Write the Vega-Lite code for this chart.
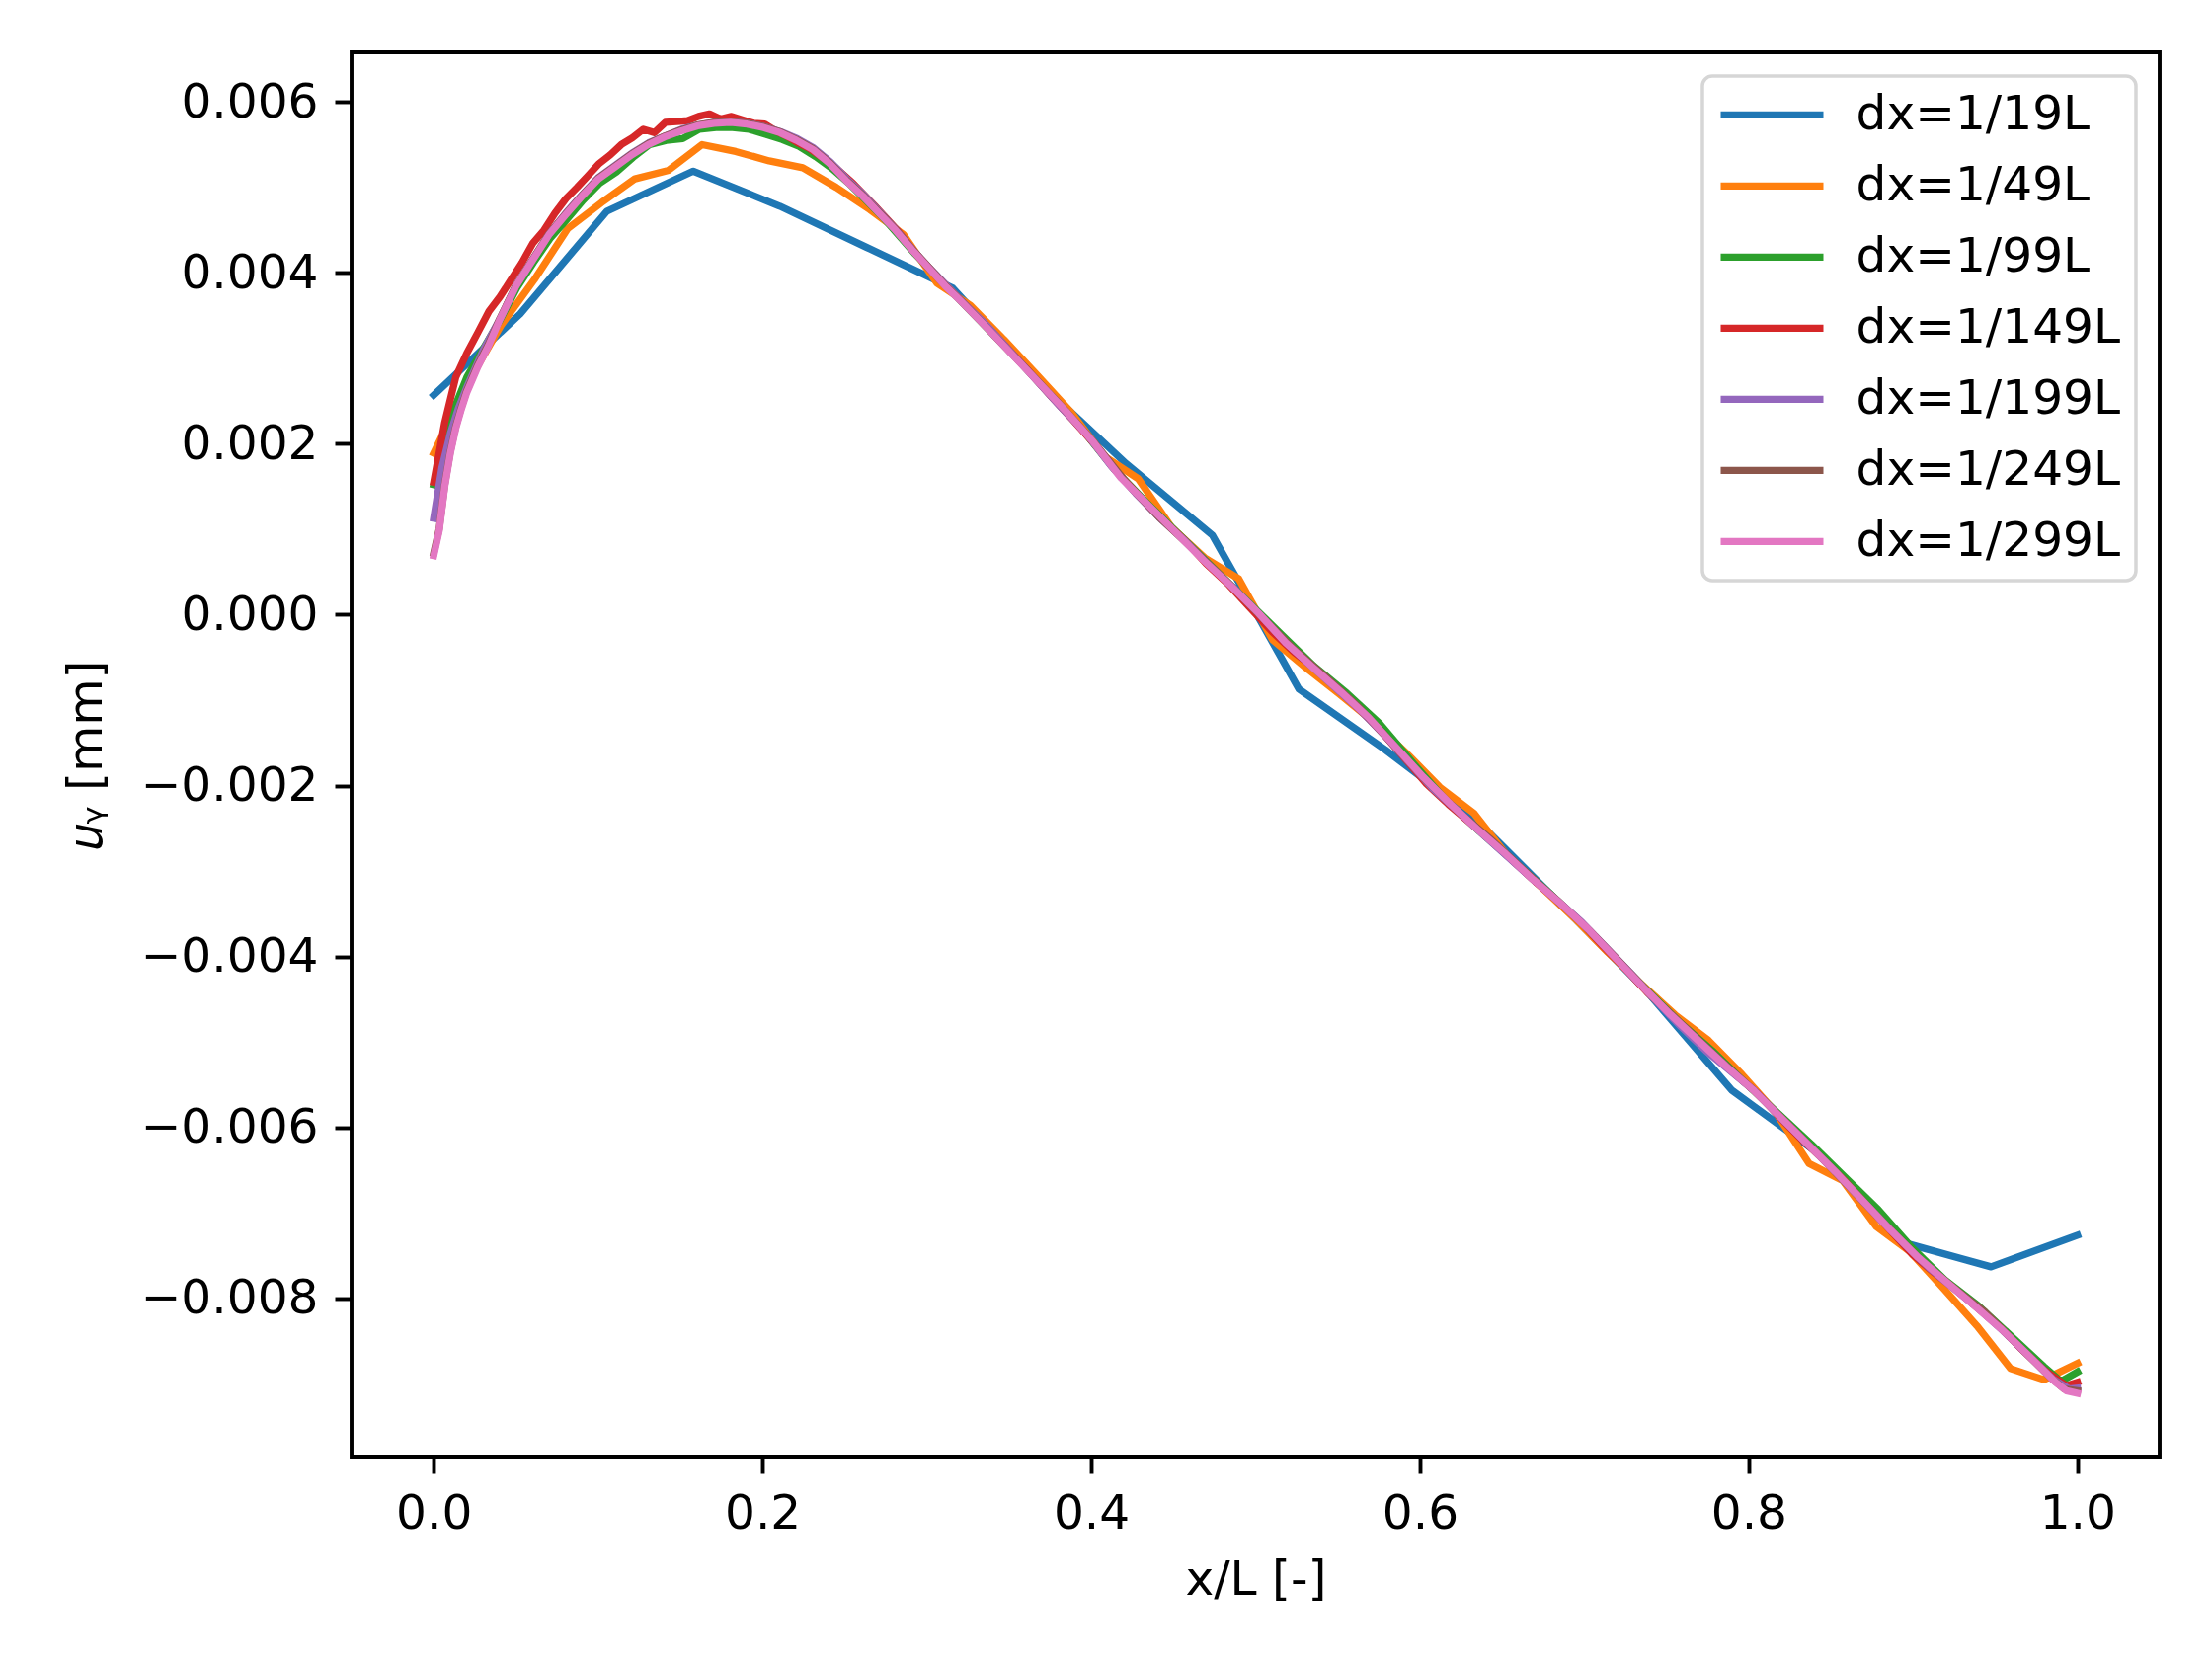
{
  "$schema": "https://vega.github.io/schema/vega-lite/v6.json",
  "width": 1831,
  "height": 1422,
  "autosize": "none",
  "padding": {"left": 356, "top": 53, "right": 53, "bottom": 205},
  "background": "white",
  "data": {
    "values": [
      {"dx": "dx=1/19L", "x": 0, "y": 0.00257},
      {"dx": "dx=1/19L", "x": 0.0526, "y": 0.00352},
      {"dx": "dx=1/19L", "x": 0.1053, "y": 0.00472},
      {"dx": "dx=1/19L", "x": 0.1579, "y": 0.00519},
      {"dx": "dx=1/19L", "x": 0.2105, "y": 0.00478},
      {"dx": "dx=1/19L", "x": 0.2632, "y": 0.0043},
      {"dx": "dx=1/19L", "x": 0.3158, "y": 0.00382},
      {"dx": "dx=1/19L", "x": 0.3684, "y": 0.00272},
      {"dx": "dx=1/19L", "x": 0.4211, "y": 0.00177},
      {"dx": "dx=1/19L", "x": 0.4737, "y": 0.00093},
      {"dx": "dx=1/19L", "x": 0.5263, "y": -0.00087},
      {"dx": "dx=1/19L", "x": 0.5789, "y": -0.00158},
      {"dx": "dx=1/19L", "x": 0.6316, "y": -0.00235},
      {"dx": "dx=1/19L", "x": 0.6842, "y": -0.00336},
      {"dx": "dx=1/19L", "x": 0.7368, "y": -0.00438},
      {"dx": "dx=1/19L", "x": 0.7895, "y": -0.00556},
      {"dx": "dx=1/19L", "x": 0.8421, "y": -0.0063},
      {"dx": "dx=1/19L", "x": 0.8947, "y": -0.00735},
      {"dx": "dx=1/19L", "x": 0.9474, "y": -0.00763},
      {"dx": "dx=1/19L", "x": 1, "y": -0.00726},

      {"dx": "dx=1/49L", "x": 0, "y": 0.00189},
      {"dx": "dx=1/49L", "x": 0.0204, "y": 0.0027},
      {"dx": "dx=1/49L", "x": 0.0408, "y": 0.00338},
      {"dx": "dx=1/49L", "x": 0.0612, "y": 0.00392},
      {"dx": "dx=1/49L", "x": 0.0816, "y": 0.00452},
      {"dx": "dx=1/49L", "x": 0.102, "y": 0.00482},
      {"dx": "dx=1/49L", "x": 0.1224, "y": 0.0051},
      {"dx": "dx=1/49L", "x": 0.1429, "y": 0.0052},
      {"dx": "dx=1/49L", "x": 0.1633, "y": 0.0055},
      {"dx": "dx=1/49L", "x": 0.1837, "y": 0.00542},
      {"dx": "dx=1/49L", "x": 0.2041, "y": 0.00531},
      {"dx": "dx=1/49L", "x": 0.2245, "y": 0.00523},
      {"dx": "dx=1/49L", "x": 0.2449, "y": 0.005},
      {"dx": "dx=1/49L", "x": 0.2653, "y": 0.00474},
      {"dx": "dx=1/49L", "x": 0.2857, "y": 0.00445},
      {"dx": "dx=1/49L", "x": 0.3061, "y": 0.00388},
      {"dx": "dx=1/49L", "x": 0.3265, "y": 0.00362},
      {"dx": "dx=1/49L", "x": 0.3469, "y": 0.00322},
      {"dx": "dx=1/49L", "x": 0.3673, "y": 0.0028},
      {"dx": "dx=1/49L", "x": 0.3878, "y": 0.00237},
      {"dx": "dx=1/49L", "x": 0.4082, "y": 0.00185},
      {"dx": "dx=1/49L", "x": 0.4286, "y": 0.00159},
      {"dx": "dx=1/49L", "x": 0.449, "y": 0.00102},
      {"dx": "dx=1/49L", "x": 0.4694, "y": 0.00066},
      {"dx": "dx=1/49L", "x": 0.4898, "y": 0.00042},
      {"dx": "dx=1/49L", "x": 0.5102, "y": -0.00029},
      {"dx": "dx=1/49L", "x": 0.5306, "y": -0.00062},
      {"dx": "dx=1/49L", "x": 0.551, "y": -0.00093},
      {"dx": "dx=1/49L", "x": 0.5714, "y": -0.00125},
      {"dx": "dx=1/49L", "x": 0.5918, "y": -0.00162},
      {"dx": "dx=1/49L", "x": 0.6122, "y": -0.00202},
      {"dx": "dx=1/49L", "x": 0.6327, "y": -0.00232},
      {"dx": "dx=1/49L", "x": 0.6531, "y": -0.00282},
      {"dx": "dx=1/49L", "x": 0.6735, "y": -0.00318},
      {"dx": "dx=1/49L", "x": 0.6939, "y": -0.00355},
      {"dx": "dx=1/49L", "x": 0.7143, "y": -0.00395},
      {"dx": "dx=1/49L", "x": 0.7347, "y": -0.00432},
      {"dx": "dx=1/49L", "x": 0.7551, "y": -0.00468},
      {"dx": "dx=1/49L", "x": 0.7755, "y": -0.00498},
      {"dx": "dx=1/49L", "x": 0.7959, "y": -0.00538},
      {"dx": "dx=1/49L", "x": 0.8163, "y": -0.00582},
      {"dx": "dx=1/49L", "x": 0.8367, "y": -0.00642},
      {"dx": "dx=1/49L", "x": 0.8571, "y": -0.00662},
      {"dx": "dx=1/49L", "x": 0.8776, "y": -0.00716},
      {"dx": "dx=1/49L", "x": 0.898, "y": -0.00745},
      {"dx": "dx=1/49L", "x": 0.9184, "y": -0.00788},
      {"dx": "dx=1/49L", "x": 0.9388, "y": -0.00832},
      {"dx": "dx=1/49L", "x": 0.9592, "y": -0.00882},
      {"dx": "dx=1/49L", "x": 0.9796, "y": -0.00895},
      {"dx": "dx=1/49L", "x": 1, "y": -0.00876},

      {"dx": "dx=1/99L", "x": 0, "y": 0.00152},
      {"dx": "dx=1/99L", "x": 0.0101, "y": 0.0023},
      {"dx": "dx=1/99L", "x": 0.0202, "y": 0.00278},
      {"dx": "dx=1/99L", "x": 0.0303, "y": 0.00312},
      {"dx": "dx=1/99L", "x": 0.0404, "y": 0.00345},
      {"dx": "dx=1/99L", "x": 0.0505, "y": 0.00382},
      {"dx": "dx=1/99L", "x": 0.0606, "y": 0.00412},
      {"dx": "dx=1/99L", "x": 0.0707, "y": 0.0044},
      {"dx": "dx=1/99L", "x": 0.0808, "y": 0.00462},
      {"dx": "dx=1/99L", "x": 0.0909, "y": 0.00485},
      {"dx": "dx=1/99L", "x": 0.101, "y": 0.00505},
      {"dx": "dx=1/99L", "x": 0.1111, "y": 0.00518},
      {"dx": "dx=1/99L", "x": 0.1212, "y": 0.00535},
      {"dx": "dx=1/99L", "x": 0.1313, "y": 0.0055},
      {"dx": "dx=1/99L", "x": 0.1414, "y": 0.00555},
      {"dx": "dx=1/99L", "x": 0.1515, "y": 0.00557},
      {"dx": "dx=1/99L", "x": 0.1616, "y": 0.00568},
      {"dx": "dx=1/99L", "x": 0.1717, "y": 0.0057},
      {"dx": "dx=1/99L", "x": 0.1818, "y": 0.0057},
      {"dx": "dx=1/99L", "x": 0.1919, "y": 0.00568},
      {"dx": "dx=1/99L", "x": 0.202, "y": 0.00562},
      {"dx": "dx=1/99L", "x": 0.2121, "y": 0.00556},
      {"dx": "dx=1/99L", "x": 0.2222, "y": 0.00548},
      {"dx": "dx=1/99L", "x": 0.2323, "y": 0.00536},
      {"dx": "dx=1/99L", "x": 0.2424, "y": 0.00522},
      {"dx": "dx=1/99L", "x": 0.2525, "y": 0.00505},
      {"dx": "dx=1/99L", "x": 0.2727, "y": 0.00466},
      {"dx": "dx=1/99L", "x": 0.2929, "y": 0.00422},
      {"dx": "dx=1/99L", "x": 0.3131, "y": 0.00382},
      {"dx": "dx=1/99L", "x": 0.3333, "y": 0.00342},
      {"dx": "dx=1/99L", "x": 0.3535, "y": 0.00302},
      {"dx": "dx=1/99L", "x": 0.3737, "y": 0.0026},
      {"dx": "dx=1/99L", "x": 0.3939, "y": 0.00218},
      {"dx": "dx=1/99L", "x": 0.4141, "y": 0.0017},
      {"dx": "dx=1/99L", "x": 0.4343, "y": 0.0013},
      {"dx": "dx=1/99L", "x": 0.4545, "y": 0.00092},
      {"dx": "dx=1/99L", "x": 0.4747, "y": 0.00054},
      {"dx": "dx=1/99L", "x": 0.4949, "y": 0.00016},
      {"dx": "dx=1/99L", "x": 0.5152, "y": -0.00022},
      {"dx": "dx=1/99L", "x": 0.5354, "y": -0.0006},
      {"dx": "dx=1/99L", "x": 0.5556, "y": -0.00092},
      {"dx": "dx=1/99L", "x": 0.5758, "y": -0.00128},
      {"dx": "dx=1/99L", "x": 0.596, "y": -0.00174},
      {"dx": "dx=1/99L", "x": 0.6162, "y": -0.00218},
      {"dx": "dx=1/99L", "x": 0.6364, "y": -0.00254},
      {"dx": "dx=1/99L", "x": 0.6566, "y": -0.00288},
      {"dx": "dx=1/99L", "x": 0.6768, "y": -0.00322},
      {"dx": "dx=1/99L", "x": 0.697, "y": -0.00358},
      {"dx": "dx=1/99L", "x": 0.7172, "y": -0.00398},
      {"dx": "dx=1/99L", "x": 0.7374, "y": -0.00438},
      {"dx": "dx=1/99L", "x": 0.7576, "y": -0.00476},
      {"dx": "dx=1/99L", "x": 0.7778, "y": -0.0051},
      {"dx": "dx=1/99L", "x": 0.798, "y": -0.00548},
      {"dx": "dx=1/99L", "x": 0.8182, "y": -0.00584},
      {"dx": "dx=1/99L", "x": 0.8384, "y": -0.0062},
      {"dx": "dx=1/99L", "x": 0.8586, "y": -0.00658},
      {"dx": "dx=1/99L", "x": 0.8788, "y": -0.00696},
      {"dx": "dx=1/99L", "x": 0.899, "y": -0.0074},
      {"dx": "dx=1/99L", "x": 0.9192, "y": -0.00778},
      {"dx": "dx=1/99L", "x": 0.9394, "y": -0.00808},
      {"dx": "dx=1/99L", "x": 0.9596, "y": -0.00844},
      {"dx": "dx=1/99L", "x": 0.9798, "y": -0.0088},
      {"dx": "dx=1/99L", "x": 0.9899, "y": -0.00897},
      {"dx": "dx=1/99L", "x": 1, "y": -0.00886},

      {"dx": "dx=1/149L", "x": 0, "y": 0.00155},
      {"dx": "dx=1/149L", "x": 0.0067, "y": 0.00225},
      {"dx": "dx=1/149L", "x": 0.0134, "y": 0.00278},
      {"dx": "dx=1/149L", "x": 0.0201, "y": 0.00306},
      {"dx": "dx=1/149L", "x": 0.0268, "y": 0.0033},
      {"dx": "dx=1/149L", "x": 0.0336, "y": 0.00355},
      {"dx": "dx=1/149L", "x": 0.0403, "y": 0.00372},
      {"dx": "dx=1/149L", "x": 0.047, "y": 0.00392},
      {"dx": "dx=1/149L", "x": 0.0537, "y": 0.00412},
      {"dx": "dx=1/149L", "x": 0.0604, "y": 0.00435},
      {"dx": "dx=1/149L", "x": 0.0671, "y": 0.0045},
      {"dx": "dx=1/149L", "x": 0.0738, "y": 0.0047},
      {"dx": "dx=1/149L", "x": 0.0805, "y": 0.00487},
      {"dx": "dx=1/149L", "x": 0.0872, "y": 0.005},
      {"dx": "dx=1/149L", "x": 0.094, "y": 0.00514},
      {"dx": "dx=1/149L", "x": 0.1007, "y": 0.00528},
      {"dx": "dx=1/149L", "x": 0.1074, "y": 0.00538},
      {"dx": "dx=1/149L", "x": 0.1141, "y": 0.0055},
      {"dx": "dx=1/149L", "x": 0.1208, "y": 0.00558},
      {"dx": "dx=1/149L", "x": 0.1275, "y": 0.00568},
      {"dx": "dx=1/149L", "x": 0.1342, "y": 0.00564},
      {"dx": "dx=1/149L", "x": 0.1409, "y": 0.00576},
      {"dx": "dx=1/149L", "x": 0.1477, "y": 0.00577},
      {"dx": "dx=1/149L", "x": 0.1544, "y": 0.00578},
      {"dx": "dx=1/149L", "x": 0.1611, "y": 0.00583},
      {"dx": "dx=1/149L", "x": 0.1678, "y": 0.00586},
      {"dx": "dx=1/149L", "x": 0.1745, "y": 0.0058},
      {"dx": "dx=1/149L", "x": 0.1812, "y": 0.00583},
      {"dx": "dx=1/149L", "x": 0.1879, "y": 0.00579},
      {"dx": "dx=1/149L", "x": 0.1946, "y": 0.00575},
      {"dx": "dx=1/149L", "x": 0.2013, "y": 0.00574},
      {"dx": "dx=1/149L", "x": 0.2081, "y": 0.00566},
      {"dx": "dx=1/149L", "x": 0.2148, "y": 0.0056},
      {"dx": "dx=1/149L", "x": 0.2215, "y": 0.00552},
      {"dx": "dx=1/149L", "x": 0.2282, "y": 0.00546},
      {"dx": "dx=1/149L", "x": 0.2416, "y": 0.00528},
      {"dx": "dx=1/149L", "x": 0.255, "y": 0.00505},
      {"dx": "dx=1/149L", "x": 0.2685, "y": 0.00478},
      {"dx": "dx=1/149L", "x": 0.2819, "y": 0.0045},
      {"dx": "dx=1/149L", "x": 0.2953, "y": 0.00418},
      {"dx": "dx=1/149L", "x": 0.3087, "y": 0.0039},
      {"dx": "dx=1/149L", "x": 0.3221, "y": 0.00365},
      {"dx": "dx=1/149L", "x": 0.3356, "y": 0.0034},
      {"dx": "dx=1/149L", "x": 0.349, "y": 0.00312},
      {"dx": "dx=1/149L", "x": 0.3624, "y": 0.00284},
      {"dx": "dx=1/149L", "x": 0.3758, "y": 0.00255},
      {"dx": "dx=1/149L", "x": 0.3893, "y": 0.00227},
      {"dx": "dx=1/149L", "x": 0.4027, "y": 0.00198},
      {"dx": "dx=1/149L", "x": 0.4161, "y": 0.00166},
      {"dx": "dx=1/149L", "x": 0.4295, "y": 0.00138},
      {"dx": "dx=1/149L", "x": 0.443, "y": 0.00112},
      {"dx": "dx=1/149L", "x": 0.4564, "y": 0.00088},
      {"dx": "dx=1/149L", "x": 0.4698, "y": 0.0006},
      {"dx": "dx=1/149L", "x": 0.4832, "y": 0.00036},
      {"dx": "dx=1/149L", "x": 0.4966, "y": 0.00008},
      {"dx": "dx=1/149L", "x": 0.5101, "y": -0.0002},
      {"dx": "dx=1/149L", "x": 0.5235, "y": -0.00044},
      {"dx": "dx=1/149L", "x": 0.5369, "y": -0.00064},
      {"dx": "dx=1/149L", "x": 0.5503, "y": -0.00088},
      {"dx": "dx=1/149L", "x": 0.5638, "y": -0.00112},
      {"dx": "dx=1/149L", "x": 0.5772, "y": -0.00138},
      {"dx": "dx=1/149L", "x": 0.5906, "y": -0.00168},
      {"dx": "dx=1/149L", "x": 0.604, "y": -0.00198},
      {"dx": "dx=1/149L", "x": 0.6174, "y": -0.00222},
      {"dx": "dx=1/149L", "x": 0.6309, "y": -0.00244},
      {"dx": "dx=1/149L", "x": 0.6443, "y": -0.00266},
      {"dx": "dx=1/149L", "x": 0.6577, "y": -0.0029},
      {"dx": "dx=1/149L", "x": 0.6711, "y": -0.00314},
      {"dx": "dx=1/149L", "x": 0.6846, "y": -0.00336},
      {"dx": "dx=1/149L", "x": 0.698, "y": -0.0036},
      {"dx": "dx=1/149L", "x": 0.7114, "y": -0.00388},
      {"dx": "dx=1/149L", "x": 0.7248, "y": -0.00414},
      {"dx": "dx=1/149L", "x": 0.7383, "y": -0.00442},
      {"dx": "dx=1/149L", "x": 0.7517, "y": -0.00466},
      {"dx": "dx=1/149L", "x": 0.7651, "y": -0.0049},
      {"dx": "dx=1/149L", "x": 0.7785, "y": -0.00516},
      {"dx": "dx=1/149L", "x": 0.7919, "y": -0.00538},
      {"dx": "dx=1/149L", "x": 0.8054, "y": -0.0056},
      {"dx": "dx=1/149L", "x": 0.8188, "y": -0.00588},
      {"dx": "dx=1/149L", "x": 0.8322, "y": -0.00614},
      {"dx": "dx=1/149L", "x": 0.8456, "y": -0.00638},
      {"dx": "dx=1/149L", "x": 0.8591, "y": -0.00664},
      {"dx": "dx=1/149L", "x": 0.8725, "y": -0.00692},
      {"dx": "dx=1/149L", "x": 0.8859, "y": -0.0072},
      {"dx": "dx=1/149L", "x": 0.8993, "y": -0.00748},
      {"dx": "dx=1/149L", "x": 0.9128, "y": -0.0077},
      {"dx": "dx=1/149L", "x": 0.9262, "y": -0.0079},
      {"dx": "dx=1/149L", "x": 0.9396, "y": -0.00812},
      {"dx": "dx=1/149L", "x": 0.953, "y": -0.00834},
      {"dx": "dx=1/149L", "x": 0.9664, "y": -0.0086},
      {"dx": "dx=1/149L", "x": 0.9799, "y": -0.00884},
      {"dx": "dx=1/149L", "x": 0.9933, "y": -0.00902},
      {"dx": "dx=1/149L", "x": 1, "y": -0.00898},

      {"dx": "dx=1/199L", "x": 0, "y": 0.00113},
      {"dx": "dx=1/199L", "x": 0.005, "y": 0.00172},
      {"dx": "dx=1/199L", "x": 0.0101, "y": 0.00212},
      {"dx": "dx=1/199L", "x": 0.0151, "y": 0.00242},
      {"dx": "dx=1/199L", "x": 0.0201, "y": 0.00266},
      {"dx": "dx=1/199L", "x": 0.0302, "y": 0.0031},
      {"dx": "dx=1/199L", "x": 0.0402, "y": 0.00346},
      {"dx": "dx=1/199L", "x": 0.0503, "y": 0.00386},
      {"dx": "dx=1/199L", "x": 0.0603, "y": 0.00416},
      {"dx": "dx=1/199L", "x": 0.0704, "y": 0.00446},
      {"dx": "dx=1/199L", "x": 0.0804, "y": 0.0047},
      {"dx": "dx=1/199L", "x": 0.0905, "y": 0.00492},
      {"dx": "dx=1/199L", "x": 0.1005, "y": 0.00512},
      {"dx": "dx=1/199L", "x": 0.1106, "y": 0.00526},
      {"dx": "dx=1/199L", "x": 0.1206, "y": 0.0054},
      {"dx": "dx=1/199L", "x": 0.1307, "y": 0.00552},
      {"dx": "dx=1/199L", "x": 0.1407, "y": 0.0056},
      {"dx": "dx=1/199L", "x": 0.1508, "y": 0.00568},
      {"dx": "dx=1/199L", "x": 0.1608, "y": 0.00573},
      {"dx": "dx=1/199L", "x": 0.1709, "y": 0.00576},
      {"dx": "dx=1/199L", "x": 0.1809, "y": 0.00577},
      {"dx": "dx=1/199L", "x": 0.191, "y": 0.00575},
      {"dx": "dx=1/199L", "x": 0.201, "y": 0.00571},
      {"dx": "dx=1/199L", "x": 0.2111, "y": 0.00565},
      {"dx": "dx=1/199L", "x": 0.2211, "y": 0.00557},
      {"dx": "dx=1/199L", "x": 0.2312, "y": 0.00546},
      {"dx": "dx=1/199L", "x": 0.2412, "y": 0.0053},
      {"dx": "dx=1/199L", "x": 0.2513, "y": 0.0051},
      {"dx": "dx=1/199L", "x": 0.2613, "y": 0.00492},
      {"dx": "dx=1/199L", "x": 0.2714, "y": 0.00471},
      {"dx": "dx=1/199L", "x": 0.2814, "y": 0.0045},
      {"dx": "dx=1/199L", "x": 0.2915, "y": 0.00427},
      {"dx": "dx=1/199L", "x": 0.3015, "y": 0.00406},
      {"dx": "dx=1/199L", "x": 0.3116, "y": 0.00386},
      {"dx": "dx=1/199L", "x": 0.3216, "y": 0.00366},
      {"dx": "dx=1/199L", "x": 0.3367, "y": 0.00338},
      {"dx": "dx=1/199L", "x": 0.3518, "y": 0.00306},
      {"dx": "dx=1/199L", "x": 0.3668, "y": 0.00274},
      {"dx": "dx=1/199L", "x": 0.3819, "y": 0.00242},
      {"dx": "dx=1/199L", "x": 0.397, "y": 0.00212},
      {"dx": "dx=1/199L", "x": 0.4121, "y": 0.00174},
      {"dx": "dx=1/199L", "x": 0.4271, "y": 0.00142},
      {"dx": "dx=1/199L", "x": 0.4422, "y": 0.00112},
      {"dx": "dx=1/199L", "x": 0.4573, "y": 0.00086},
      {"dx": "dx=1/199L", "x": 0.4724, "y": 0.00057},
      {"dx": "dx=1/199L", "x": 0.4874, "y": 0.0003},
      {"dx": "dx=1/199L", "x": 0.5025, "y": 0},
      {"dx": "dx=1/199L", "x": 0.5176, "y": -0.00031},
      {"dx": "dx=1/199L", "x": 0.5327, "y": -0.00058},
      {"dx": "dx=1/199L", "x": 0.5477, "y": -0.00084},
      {"dx": "dx=1/199L", "x": 0.5628, "y": -0.0011},
      {"dx": "dx=1/199L", "x": 0.5779, "y": -0.0014},
      {"dx": "dx=1/199L", "x": 0.593, "y": -0.00172},
      {"dx": "dx=1/199L", "x": 0.608, "y": -0.00204},
      {"dx": "dx=1/199L", "x": 0.6231, "y": -0.0023},
      {"dx": "dx=1/199L", "x": 0.6382, "y": -0.00257},
      {"dx": "dx=1/199L", "x": 0.6533, "y": -0.00283},
      {"dx": "dx=1/199L", "x": 0.6683, "y": -0.00309},
      {"dx": "dx=1/199L", "x": 0.6834, "y": -0.00334},
      {"dx": "dx=1/199L", "x": 0.6985, "y": -0.0036},
      {"dx": "dx=1/199L", "x": 0.7136, "y": -0.0039},
      {"dx": "dx=1/199L", "x": 0.7286, "y": -0.0042},
      {"dx": "dx=1/199L", "x": 0.7437, "y": -0.00452},
      {"dx": "dx=1/199L", "x": 0.7588, "y": -0.00482},
      {"dx": "dx=1/199L", "x": 0.7739, "y": -0.0051},
      {"dx": "dx=1/199L", "x": 0.7889, "y": -0.00534},
      {"dx": "dx=1/199L", "x": 0.804, "y": -0.00558},
      {"dx": "dx=1/199L", "x": 0.8191, "y": -0.00588},
      {"dx": "dx=1/199L", "x": 0.8342, "y": -0.00616},
      {"dx": "dx=1/199L", "x": 0.8492, "y": -0.00645},
      {"dx": "dx=1/199L", "x": 0.8643, "y": -0.00676},
      {"dx": "dx=1/199L", "x": 0.8794, "y": -0.00706},
      {"dx": "dx=1/199L", "x": 0.8945, "y": -0.00736},
      {"dx": "dx=1/199L", "x": 0.9095, "y": -0.00764},
      {"dx": "dx=1/199L", "x": 0.9246, "y": -0.00788},
      {"dx": "dx=1/199L", "x": 0.9397, "y": -0.00812},
      {"dx": "dx=1/199L", "x": 0.9548, "y": -0.00838},
      {"dx": "dx=1/199L", "x": 0.9698, "y": -0.00866},
      {"dx": "dx=1/199L", "x": 0.9849, "y": -0.00894},
      {"dx": "dx=1/199L", "x": 0.995, "y": -0.00906},
      {"dx": "dx=1/199L", "x": 1, "y": -0.00905},

      {"dx": "dx=1/249L", "x": 0, "y": 0.00072},
      {"dx": "dx=1/249L", "x": 0.0033, "y": 0.001},
      {"dx": "dx=1/249L", "x": 0.0067, "y": 0.00152},
      {"dx": "dx=1/249L", "x": 0.01, "y": 0.0019},
      {"dx": "dx=1/249L", "x": 0.0134, "y": 0.0022},
      {"dx": "dx=1/249L", "x": 0.0167, "y": 0.00242},
      {"dx": "dx=1/249L", "x": 0.0201, "y": 0.00262},
      {"dx": "dx=1/249L", "x": 0.0268, "y": 0.00292},
      {"dx": "dx=1/249L", "x": 0.0334, "y": 0.00317},
      {"dx": "dx=1/249L", "x": 0.0401, "y": 0.00346},
      {"dx": "dx=1/249L", "x": 0.0502, "y": 0.00386},
      {"dx": "dx=1/249L", "x": 0.0602, "y": 0.00416},
      {"dx": "dx=1/249L", "x": 0.0702, "y": 0.00446},
      {"dx": "dx=1/249L", "x": 0.0803, "y": 0.00469},
      {"dx": "dx=1/249L", "x": 0.0903, "y": 0.00491},
      {"dx": "dx=1/249L", "x": 0.1003, "y": 0.00511},
      {"dx": "dx=1/249L", "x": 0.1104, "y": 0.00525},
      {"dx": "dx=1/249L", "x": 0.1204, "y": 0.00539},
      {"dx": "dx=1/249L", "x": 0.1304, "y": 0.00551},
      {"dx": "dx=1/249L", "x": 0.1405, "y": 0.0056},
      {"dx": "dx=1/249L", "x": 0.1505, "y": 0.00567},
      {"dx": "dx=1/249L", "x": 0.1605, "y": 0.00573},
      {"dx": "dx=1/249L", "x": 0.1706, "y": 0.00576},
      {"dx": "dx=1/249L", "x": 0.1806, "y": 0.00577},
      {"dx": "dx=1/249L", "x": 0.1906, "y": 0.00575},
      {"dx": "dx=1/249L", "x": 0.2007, "y": 0.00571},
      {"dx": "dx=1/249L", "x": 0.2107, "y": 0.00565},
      {"dx": "dx=1/249L", "x": 0.2207, "y": 0.00556},
      {"dx": "dx=1/249L", "x": 0.2308, "y": 0.00545},
      {"dx": "dx=1/249L", "x": 0.2408, "y": 0.00529},
      {"dx": "dx=1/249L", "x": 0.2508, "y": 0.00509},
      {"dx": "dx=1/249L", "x": 0.2609, "y": 0.00491},
      {"dx": "dx=1/249L", "x": 0.2709, "y": 0.00471},
      {"dx": "dx=1/249L", "x": 0.2809, "y": 0.00451},
      {"dx": "dx=1/249L", "x": 0.291, "y": 0.00428},
      {"dx": "dx=1/249L", "x": 0.301, "y": 0.00407},
      {"dx": "dx=1/249L", "x": 0.311, "y": 0.00386},
      {"dx": "dx=1/249L", "x": 0.3211, "y": 0.00367},
      {"dx": "dx=1/249L", "x": 0.3414, "y": 0.00326},
      {"dx": "dx=1/249L", "x": 0.3614, "y": 0.00286},
      {"dx": "dx=1/249L", "x": 0.3815, "y": 0.00245},
      {"dx": "dx=1/249L", "x": 0.4016, "y": 0.00202},
      {"dx": "dx=1/249L", "x": 0.4217, "y": 0.00154},
      {"dx": "dx=1/249L", "x": 0.4418, "y": 0.00113},
      {"dx": "dx=1/249L", "x": 0.4618, "y": 0.00077},
      {"dx": "dx=1/249L", "x": 0.4819, "y": 0.0004},
      {"dx": "dx=1/249L", "x": 0.502, "y": 0.00001},
      {"dx": "dx=1/249L", "x": 0.5221, "y": -0.00038},
      {"dx": "dx=1/249L", "x": 0.5422, "y": -0.00072},
      {"dx": "dx=1/249L", "x": 0.5622, "y": -0.00107},
      {"dx": "dx=1/249L", "x": 0.5823, "y": -0.00149},
      {"dx": "dx=1/249L", "x": 0.6024, "y": -0.00191},
      {"dx": "dx=1/249L", "x": 0.6225, "y": -0.00229},
      {"dx": "dx=1/249L", "x": 0.6426, "y": -0.00262},
      {"dx": "dx=1/249L", "x": 0.6627, "y": -0.00298},
      {"dx": "dx=1/249L", "x": 0.6827, "y": -0.00333},
      {"dx": "dx=1/249L", "x": 0.7028, "y": -0.00369},
      {"dx": "dx=1/249L", "x": 0.7229, "y": -0.00409},
      {"dx": "dx=1/249L", "x": 0.743, "y": -0.0045},
      {"dx": "dx=1/249L", "x": 0.7631, "y": -0.00486},
      {"dx": "dx=1/249L", "x": 0.7831, "y": -0.00522},
      {"dx": "dx=1/249L", "x": 0.8032, "y": -0.00557},
      {"dx": "dx=1/249L", "x": 0.8233, "y": -0.00595},
      {"dx": "dx=1/249L", "x": 0.8434, "y": -0.00634},
      {"dx": "dx=1/249L", "x": 0.8635, "y": -0.00674},
      {"dx": "dx=1/249L", "x": 0.8835, "y": -0.00714},
      {"dx": "dx=1/249L", "x": 0.9036, "y": -0.00753},
      {"dx": "dx=1/249L", "x": 0.9237, "y": -0.00786},
      {"dx": "dx=1/249L", "x": 0.9438, "y": -0.00816},
      {"dx": "dx=1/249L", "x": 0.9639, "y": -0.00855},
      {"dx": "dx=1/249L", "x": 0.9839, "y": -0.00893},
      {"dx": "dx=1/249L", "x": 0.992, "y": -0.00906},
      {"dx": "dx=1/249L", "x": 1, "y": -0.00908},

      {"dx": "dx=1/299L", "x": 0, "y": 0.00069},
      {"dx": "dx=1/299L", "x": 0.0033, "y": 0.00098},
      {"dx": "dx=1/299L", "x": 0.0067, "y": 0.0015},
      {"dx": "dx=1/299L", "x": 0.01, "y": 0.00188},
      {"dx": "dx=1/299L", "x": 0.0134, "y": 0.00218},
      {"dx": "dx=1/299L", "x": 0.0167, "y": 0.0024},
      {"dx": "dx=1/299L", "x": 0.0201, "y": 0.0026},
      {"dx": "dx=1/299L", "x": 0.0268, "y": 0.0029},
      {"dx": "dx=1/299L", "x": 0.0334, "y": 0.00315},
      {"dx": "dx=1/299L", "x": 0.0401, "y": 0.00345},
      {"dx": "dx=1/299L", "x": 0.0502, "y": 0.00385},
      {"dx": "dx=1/299L", "x": 0.0602, "y": 0.00415},
      {"dx": "dx=1/299L", "x": 0.0702, "y": 0.00445},
      {"dx": "dx=1/299L", "x": 0.0803, "y": 0.00468},
      {"dx": "dx=1/299L", "x": 0.0903, "y": 0.0049},
      {"dx": "dx=1/299L", "x": 0.1003, "y": 0.0051},
      {"dx": "dx=1/299L", "x": 0.1104, "y": 0.00524},
      {"dx": "dx=1/299L", "x": 0.1204, "y": 0.00538},
      {"dx": "dx=1/299L", "x": 0.1304, "y": 0.0055},
      {"dx": "dx=1/299L", "x": 0.1405, "y": 0.00559},
      {"dx": "dx=1/299L", "x": 0.1505, "y": 0.00566},
      {"dx": "dx=1/299L", "x": 0.1605, "y": 0.00572},
      {"dx": "dx=1/299L", "x": 0.1706, "y": 0.00575},
      {"dx": "dx=1/299L", "x": 0.1806, "y": 0.00576},
      {"dx": "dx=1/299L", "x": 0.1906, "y": 0.00574},
      {"dx": "dx=1/299L", "x": 0.2007, "y": 0.0057},
      {"dx": "dx=1/299L", "x": 0.2107, "y": 0.00564},
      {"dx": "dx=1/299L", "x": 0.2207, "y": 0.00555},
      {"dx": "dx=1/299L", "x": 0.2308, "y": 0.00544},
      {"dx": "dx=1/299L", "x": 0.2408, "y": 0.00528},
      {"dx": "dx=1/299L", "x": 0.2508, "y": 0.00508},
      {"dx": "dx=1/299L", "x": 0.2609, "y": 0.0049},
      {"dx": "dx=1/299L", "x": 0.2709, "y": 0.0047},
      {"dx": "dx=1/299L", "x": 0.2809, "y": 0.0045},
      {"dx": "dx=1/299L", "x": 0.291, "y": 0.00427},
      {"dx": "dx=1/299L", "x": 0.301, "y": 0.00406},
      {"dx": "dx=1/299L", "x": 0.311, "y": 0.00385},
      {"dx": "dx=1/299L", "x": 0.3211, "y": 0.00366},
      {"dx": "dx=1/299L", "x": 0.3344, "y": 0.0034},
      {"dx": "dx=1/299L", "x": 0.3512, "y": 0.00306},
      {"dx": "dx=1/299L", "x": 0.3679, "y": 0.00272},
      {"dx": "dx=1/299L", "x": 0.3846, "y": 0.00238},
      {"dx": "dx=1/299L", "x": 0.4013, "y": 0.00202},
      {"dx": "dx=1/299L", "x": 0.4181, "y": 0.0016},
      {"dx": "dx=1/299L", "x": 0.4348, "y": 0.00128},
      {"dx": "dx=1/299L", "x": 0.4515, "y": 0.00096},
      {"dx": "dx=1/299L", "x": 0.4682, "y": 0.00064},
      {"dx": "dx=1/299L", "x": 0.4849, "y": 0.00034},
      {"dx": "dx=1/299L", "x": 0.5017, "y": 0.00002},
      {"dx": "dx=1/299L", "x": 0.5184, "y": -0.00033},
      {"dx": "dx=1/299L", "x": 0.5351, "y": -0.00062},
      {"dx": "dx=1/299L", "x": 0.5518, "y": -0.0009},
      {"dx": "dx=1/299L", "x": 0.5686, "y": -0.0012},
      {"dx": "dx=1/299L", "x": 0.5853, "y": -0.00155},
      {"dx": "dx=1/299L", "x": 0.602, "y": -0.0019},
      {"dx": "dx=1/299L", "x": 0.6187, "y": -0.00222},
      {"dx": "dx=1/299L", "x": 0.6355, "y": -0.00252},
      {"dx": "dx=1/299L", "x": 0.6522, "y": -0.0028},
      {"dx": "dx=1/299L", "x": 0.6689, "y": -0.0031},
      {"dx": "dx=1/299L", "x": 0.6856, "y": -0.00338},
      {"dx": "dx=1/299L", "x": 0.7023, "y": -0.00368},
      {"dx": "dx=1/299L", "x": 0.7191, "y": -0.00402},
      {"dx": "dx=1/299L", "x": 0.7358, "y": -0.00436},
      {"dx": "dx=1/299L", "x": 0.7525, "y": -0.00468},
      {"dx": "dx=1/299L", "x": 0.7692, "y": -0.00498},
      {"dx": "dx=1/299L", "x": 0.786, "y": -0.00528},
      {"dx": "dx=1/299L", "x": 0.8027, "y": -0.00556},
      {"dx": "dx=1/299L", "x": 0.8194, "y": -0.00588},
      {"dx": "dx=1/299L", "x": 0.8361, "y": -0.0062},
      {"dx": "dx=1/299L", "x": 0.8528, "y": -0.00652},
      {"dx": "dx=1/299L", "x": 0.8696, "y": -0.00686},
      {"dx": "dx=1/299L", "x": 0.8863, "y": -0.0072},
      {"dx": "dx=1/299L", "x": 0.903, "y": -0.00752},
      {"dx": "dx=1/299L", "x": 0.9197, "y": -0.0078},
      {"dx": "dx=1/299L", "x": 0.9365, "y": -0.00807},
      {"dx": "dx=1/299L", "x": 0.9532, "y": -0.00835},
      {"dx": "dx=1/299L", "x": 0.9699, "y": -0.00866},
      {"dx": "dx=1/299L", "x": 0.9866, "y": -0.00898},
      {"dx": "dx=1/299L", "x": 0.9933, "y": -0.00908},
      {"dx": "dx=1/299L", "x": 1, "y": -0.00911}
    ]
  },
  "mark": {"type": "line", "strokeWidth": 7.3, "strokeJoin": "round", "strokeCap": "square"},
  "encoding": {
    "x": {
      "field": "x",
      "type": "quantitative",
      "title": "x/L [-]",
      "scale": {"domain": [-0.05, 1.05], "nice": false, "zero": false},
      "axis": {"values": [0, 0.2, 0.4, 0.6, 0.8, 1.0], "format": ".1f", "titlePadding": 20}
    },
    "y": {
      "field": "y",
      "type": "quantitative",
      "title": "𝑢ᵧ [mm]",
      "scale": {"domain": [-0.00985, 0.00658], "nice": false, "zero": false},
      "axis": {"values": [-0.008, -0.006, -0.004, -0.002, 0, 0.002, 0.004, 0.006], "format": ".3f", "titlePadding": 44}
    },
    "color": {
      "field": "dx",
      "type": "nominal",
      "scale": {
        "domain": ["dx=1/19L", "dx=1/49L", "dx=1/99L", "dx=1/149L", "dx=1/199L", "dx=1/249L", "dx=1/299L"],
        "range": ["#1f77b4", "#ff7f0e", "#2ca02c", "#d62728", "#9467bd", "#8c564b", "#e377c2"]
      },
      "legend": {"title": null}
    }
  },
  "config": {
    "font": "DejaVu Sans",
    "view": {"stroke": "black", "strokeWidth": 3.9},
    "axis": {
      "grid": false,
      "domain": false,
      "ticks": true,
      "tickSize": 17,
      "tickWidth": 3.9,
      "tickColor": "black",
      "labelPadding": 17,
      "labelFont": "DejaVu Sans",
      "labelFontSize": 48.6,
      "labelColor": "black",
      "titleFont": "DejaVu Sans",
      "titleFontSize": 48.6,
      "titleFontWeight": "normal",
      "titleColor": "black"
    },
    "legend": {
      "orient": "top-right",
      "offset": 24,
      "padding": 15,
      "fillColor": "white",
      "strokeColor": "#d6d6d6",
      "strokeWidth": 3.5,
      "cornerRadius": 10,
      "labelFont": "DejaVu Sans",
      "labelFontSize": 48.6,
      "labelColor": "black",
      "labelOffset": 92,
      "labelLimit": 0,
      "symbolType": "M-1.6,0H6.4",
      "symbolSize": 676,
      "symbolStrokeWidth": 7.3,
      "rowPadding": 23
    }
  }
}
